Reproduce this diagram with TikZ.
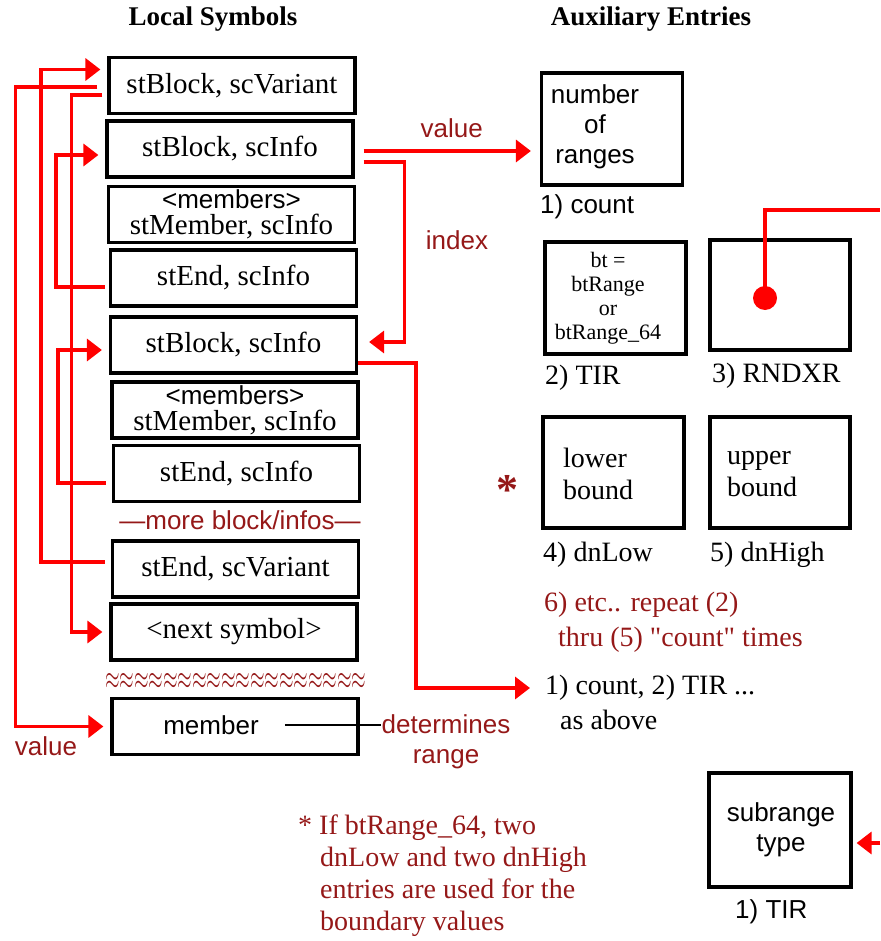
\documentclass[tikz,border=0pt]{standalone}
\usepackage{fontspec}
\setmainfont{Liberation Serif}
\setsansfont{Liberation Sans}
\usepackage{tikz}
\usetikzlibrary{arrows.meta, positioning, calc}
\definecolor{linkred}{HTML}{FF0000}
\definecolor{notered}{HTML}{951818}

\begin{document}
\begin{tikzpicture}[x=1pt, y=-1pt,
    >={Triangle[length=15pt,width=22pt]},
    symbox/.style={draw, line width=3.2pt, minimum width=246pt, minimum height=56pt,
        inner sep=0pt, align=center, font=\fontsize{29}{26}\selectfont},
    auxbox/.style={draw, line width=3.2pt, minimum width=141pt, minimum height=112pt, inner sep=0pt},
    serif/.style={font=\fontsize{28}{32}\selectfont, inner sep=0pt},
    sans/.style={font=\sffamily\fontsize{26}{30}\selectfont, inner sep=0pt},
    note/.style={text=notered},
    title/.style={font=\bfseries\fontsize{27}{28}\selectfont, inner sep=0pt},
    link/.style={linkred, line width=3.5pt}]
        \useasboundingbox (0,0) rectangle (880,941);

        % Headings
        \node[title] (localTitle) at (213,19) {Local Symbols};
        \node[title] (auxTitle) at (651,19) {Auxiliary Entries};

        % Local symbols column
        \node[symbox] (symVariant) at (232,85.5) {stBlock, scVariant};
        \node[symbox] (symBlockA) at (230,149) {stBlock, scInfo};
        \node[symbox] (symMembersA) at (231.5,214.5) {{\sffamily\fontsize{26}{26}\selectfont <members>}\\stMember, scInfo};
        \node[symbox] (symEndA) at (233.5,278) {stEnd, scInfo};
        \node[symbox] (symBlockB) at (233.5,345) {stBlock, scInfo};
        \node[symbox] (symMembersB) at (235,410) {{\sffamily\fontsize{26}{26}\selectfont <members>}\\stMember, scInfo};
        \node[symbox] (symEndB) at (236.5,473.5) {stEnd, scInfo};
        \node[sans, note] (moreInfos) at (240,520) {—more block/infos—};
        \node[symbox] (symEndVariant) at (235.5,569) {stEnd, scVariant};
        \node[symbox] (symNext) at (234,632) {<next symbol>};
        \node[note, font=\fontsize{20}{20}\selectfont, inner sep=0pt] (symGap) at (236,681)
            {\scalebox{0.9}[1.6]{$\approx\approx\approx\approx\approx\approx\approx\approx\approx\approx\approx\approx\approx\approx\approx\approx\approx\approx$}};
        \node[symbox] (symMember) at (235,726.5) {};
        \node[sans] (memberText) at (211,725) {member};
        \node[sans, note, align=center] (rangeNote) at (446,742) {determines\\range};
        \node[sans, note] (valueLow) at (46,746) {value};
        \draw[line width=1.2pt] ([xshift=26pt]memberText.east) -- (memberText.east -| rangeNote.west);

        % Links inside the symbol table
        \draw[link,->,shorten >=7pt] ([xshift=-6pt,yshift=7pt]symEndVariant.west) -- ++(-64,0) |- ([yshift=16pt]symVariant.west);
        \draw[link,->,shorten >=7pt] ([xshift=-10pt,yshift=-1.5pt]symVariant.west) -- ++(-82,0) |- (symMember.west);
        \draw[link,->,shorten >=7pt] ([xshift=-5pt,yshift=-9.5pt]symVariant.west) -- ++(-31,0) |- (symNext.west);
        \draw[link,->,shorten >=7pt] ([xshift=-4pt,yshift=-9pt]symEndA.west) -- ++(-49,0) |- ([yshift=-6pt]symBlockA.west);
        \draw[link,->,shorten >=7pt] ([xshift=-6pt,yshift=-9.5pt]symEndB.west) -- ++(-48,0) |- ([yshift=-5pt]symBlockB.west);

        % Auxiliary entries
        \node[auxbox] (numRanges) at (612,129) {};
        \node[sans, align=center] (numRangesText) at (595,127) {number\\of\\ranges};
        \node[sans, anchor=west] (countLabel) at (540,207) {1) count};

        \node[auxbox] (tirBox) at (615.5,298) {};
        \node[serif, align=center, font=\fontsize{22}{24}\selectfont] (tirText) at (608,298) {bt =\\btRange\\or\\btRange\_64};
        \node[serif, anchor=west] (tirLabel) at (545,378) {2) TIR};

        \node[auxbox, minimum width=140pt, minimum height=110pt] (rndxBox) at (780,295) {};
        \node[serif, anchor=west] (rndxLabel) at (712,376) {3) RNDXR};
        \coordinate (rndxDot) at (765,298);
        \coordinate (rndxOut) at (880,210);
        \draw[link] (rndxDot) |- (rndxOut);
        \fill[linkred] (rndxDot) circle (12pt);

        \node[auxbox, minimum height=111pt] (lowerBox) at (613.5,472.5) {};
        \node[serif, align=left, anchor=west] (lowerText) at (563,474) {lower\\bound};
        \node[auxbox, minimum width=140pt, minimum height=111pt] (upperBox) at (780,472.5) {};
        \node[serif, align=left, anchor=west] (upperText) at (727,474) {upper\\bound};
        \node[serif, anchor=west] (lowLabel) at (543,555) {4) dnLow};
        \node[serif, anchor=west] (highLabel) at (710,555) {5) dnHigh};
        \node[note, font=\bfseries\fontsize{44}{44}\selectfont, inner sep=0pt] (boundStar) at (507,490) {*};

        \node[serif, note, anchor=west] (repeatNote) at (544,605) {6) etc.. repeat (2)};
        \node[serif, note, anchor=west] (repeatNoteB) at (558,640) {thru (5) \textquotedbl count\textquotedbl{} times};
        \node[serif, anchor=west] (repeatCount) at (545,688) {1) count, 2) TIR ...};
        \node[serif, anchor=west] (repeatAbove) at (560,720) {as above};

        \node[serif, note, align=left, anchor=north west] (rangeFoot) at (298,815)
            {* If btRange\_64, two\\\hspace*{22pt}dnLow and two dnHigh\\\hspace*{22pt}entries are used for the\\\hspace*{22pt}boundary values};

        \node[auxbox, minimum width=142pt, minimum height=114pt] (subBox) at (780,830) {};
        \node[sans, align=center] (subText) at (781,830) {subrange\\type};
        \node[sans, anchor=west] (subLabel) at (735,912) {1) TIR};
        \coordinate (subIn) at (880,843);
        \draw[link,->,shorten >=4pt] (subIn) -- (subIn -| subBox.east);

        % Links to the auxiliary entries
        \draw[link,->,shorten >=9pt] ([xshift=9pt,yshift=-2pt]symBlockA.east) -- ([yshift=-22pt]numRanges.west)
            node[midway, above=11pt, sans, note] (valueLabel) {value};
        \draw[link,->,shorten >=11pt] ([xshift=9pt,yshift=-13pt]symBlockA.east) -- ++(41,0) |- ([yshift=3pt]symBlockB.east);
        \node[sans, note] (indexLabel) at (457,240) {index};
        \draw[link,->,shorten >=15pt] ([yshift=-18pt]symBlockB.east) -- ++(58,0) |- (repeatCount.west);
\end{tikzpicture}
\end{document}
